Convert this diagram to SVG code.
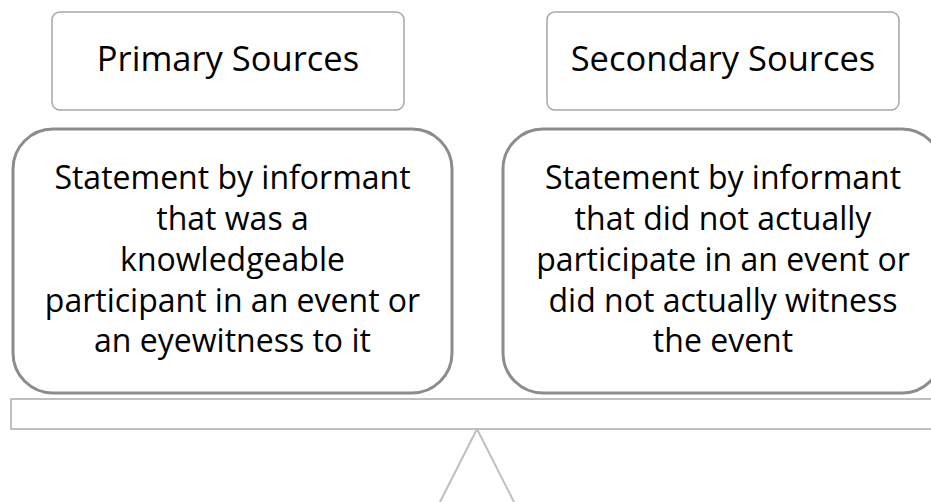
<svg xmlns="http://www.w3.org/2000/svg" width="931" height="502" viewBox="0 0 931 502">
<style>
  .hdr { fill:#ffffff; stroke:#a6a6a6; stroke-width:1.5; }
  .big { fill:#ffffff; stroke:#8c8c8c; stroke-width:3; }
  .bal { fill:#ffffff; stroke:#bfbfbf; stroke-width:2; }
  text { font-family:"Open Sans","Noto Sans",sans-serif; font-size:32px; fill:#000000; text-anchor:middle; }
  .ht { font-size:34.5px; }
</style>
<rect width="931" height="502" fill="#ffffff"/>
<g id="connectors">
  <polyline class="bal" points="440,502 477,429 514,502" fill="none"/>
</g>
<g id="beam">
  <rect class="bal" x="11" y="399" width="930" height="30"/>
</g>
<g id="primary-header">
  <rect class="hdr" x="52" y="12" width="352" height="98" rx="8"/>
  <text class="ht" x="228" y="71">Primary Sources</text>
</g>
<g id="secondary-header">
  <rect class="hdr" x="547" y="12" width="352" height="98" rx="8"/>
  <text class="ht" x="723" y="71">Secondary Sources</text>
</g>
<g id="primary-body">
  <rect class="big" x="13" y="129" width="439" height="264" rx="40"/>
  <text x="232.5" y="189">Statement by informant</text>
  <text x="232.5" y="230">that was a</text>
  <text x="232.5" y="270.5">knowledgeable</text>
  <text x="232.5" y="311.5">participant in an event or</text>
  <text x="232.5" y="352">an eyewitness to it</text>
</g>
<g id="secondary-body">
  <rect class="big" x="503" y="129" width="439" height="264" rx="40"/>
  <text x="723" y="189">Statement by informant</text>
  <text x="723" y="230">that did not actually</text>
  <text x="723" y="270.5">participate in an event or</text>
  <text x="723" y="311.5">did not actually witness</text>
  <text x="723" y="352">the event</text>
</g>
</svg>
